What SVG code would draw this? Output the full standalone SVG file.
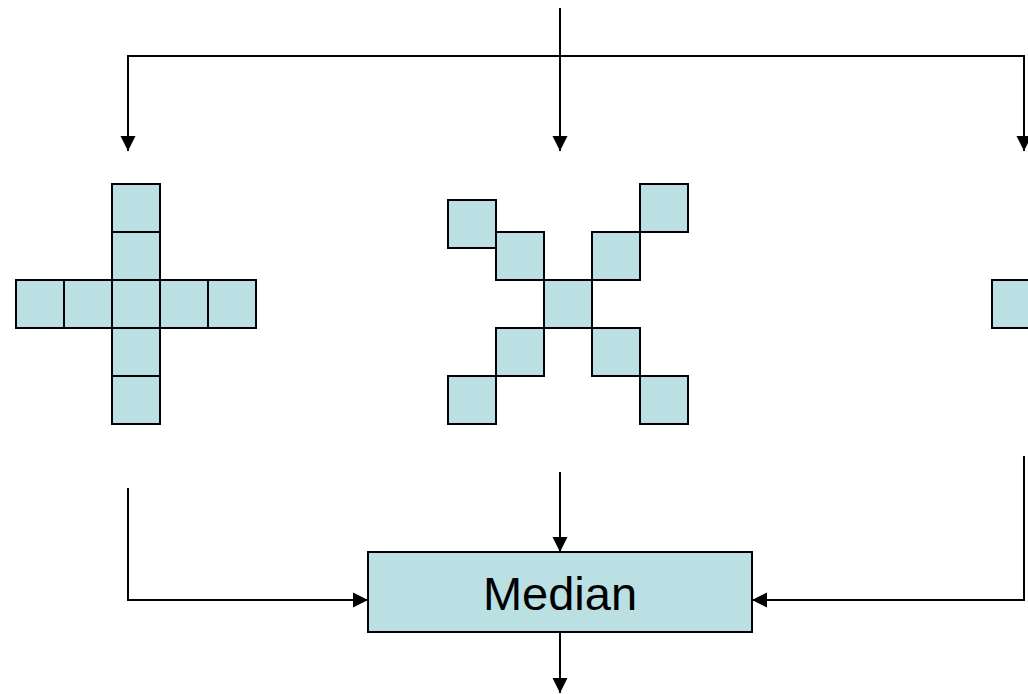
<svg xmlns="http://www.w3.org/2000/svg" width="1028" height="694" viewBox="0 0 1028 694">
  <style>
    .cell { fill: #BBE0E3; stroke: #000; stroke-width: 2; }
    .wire { fill: none; stroke: #000; stroke-width: 2; }
    .label { font-family: "Liberation Sans", Arial, sans-serif; font-size: 47px; fill: #000; }
  </style>
  <defs>
    <marker id="arrow" markerUnits="userSpaceOnUse" markerWidth="16" markerHeight="16" viewBox="0 0 16 16" refX="15" refY="8" orient="auto">
      <path d="M0,0.5 L15,8 L0,15.5 Z" fill="#000"/>
    </marker>
  </defs>
  <rect width="1028" height="694" fill="#fff"/>

  <!-- connectors -->
  <g id="connectors">
    <path class="wire" d="M560,8 V151" marker-end="url(#arrow)"/>
    <path class="wire" d="M128,56 H1024"/>
    <path class="wire" d="M128,55 V151" marker-end="url(#arrow)"/>
    <path class="wire" d="M1024,55 V151" marker-end="url(#arrow)"/>
    <path class="wire" d="M128,488 V600 H368" marker-end="url(#arrow)"/>
    <path class="wire" d="M560,472 V552" marker-end="url(#arrow)"/>
    <path class="wire" d="M1024,456 V600 H752" marker-end="url(#arrow)"/>
    <path class="wire" d="M560,632 V693" marker-end="url(#arrow)"/>
  </g>

  <!-- plus-shaped window -->
  <g id="plus-window">
    <rect class="cell" x="112" y="184" width="48" height="48"/>
    <rect class="cell" x="112" y="232" width="48" height="48"/>
    <rect class="cell" x="16" y="280" width="48" height="48"/>
    <rect class="cell" x="64" y="280" width="48" height="48"/>
    <rect class="cell" x="112" y="280" width="48" height="48"/>
    <rect class="cell" x="160" y="280" width="48" height="48"/>
    <rect class="cell" x="208" y="280" width="48" height="48"/>
    <rect class="cell" x="112" y="328" width="48" height="48"/>
    <rect class="cell" x="112" y="376" width="48" height="48"/>
  </g>

  <!-- x-shaped window -->
  <g id="x-window">
    <rect class="cell" x="448" y="200" width="48" height="48"/>
    <rect class="cell" x="496" y="232" width="48" height="48"/>
    <rect class="cell" x="640" y="184" width="48" height="48"/>
    <rect class="cell" x="592" y="232" width="48" height="48"/>
    <rect class="cell" x="544" y="280" width="48" height="48"/>
    <rect class="cell" x="496" y="328" width="48" height="48"/>
    <rect class="cell" x="448" y="376" width="48" height="48"/>
    <rect class="cell" x="592" y="328" width="48" height="48"/>
    <rect class="cell" x="640" y="376" width="48" height="48"/>
  </g>

  <!-- third window, clipped at the right edge -->
  <g id="third-window">
    <rect class="cell" x="992" y="280" width="48" height="48"/>
  </g>

  <!-- median block -->
  <g id="median">
    <rect class="cell" x="368" y="552" width="384" height="80"/>
    <text class="label" x="560" y="610" text-anchor="middle">Median</text>
  </g>
</svg>
